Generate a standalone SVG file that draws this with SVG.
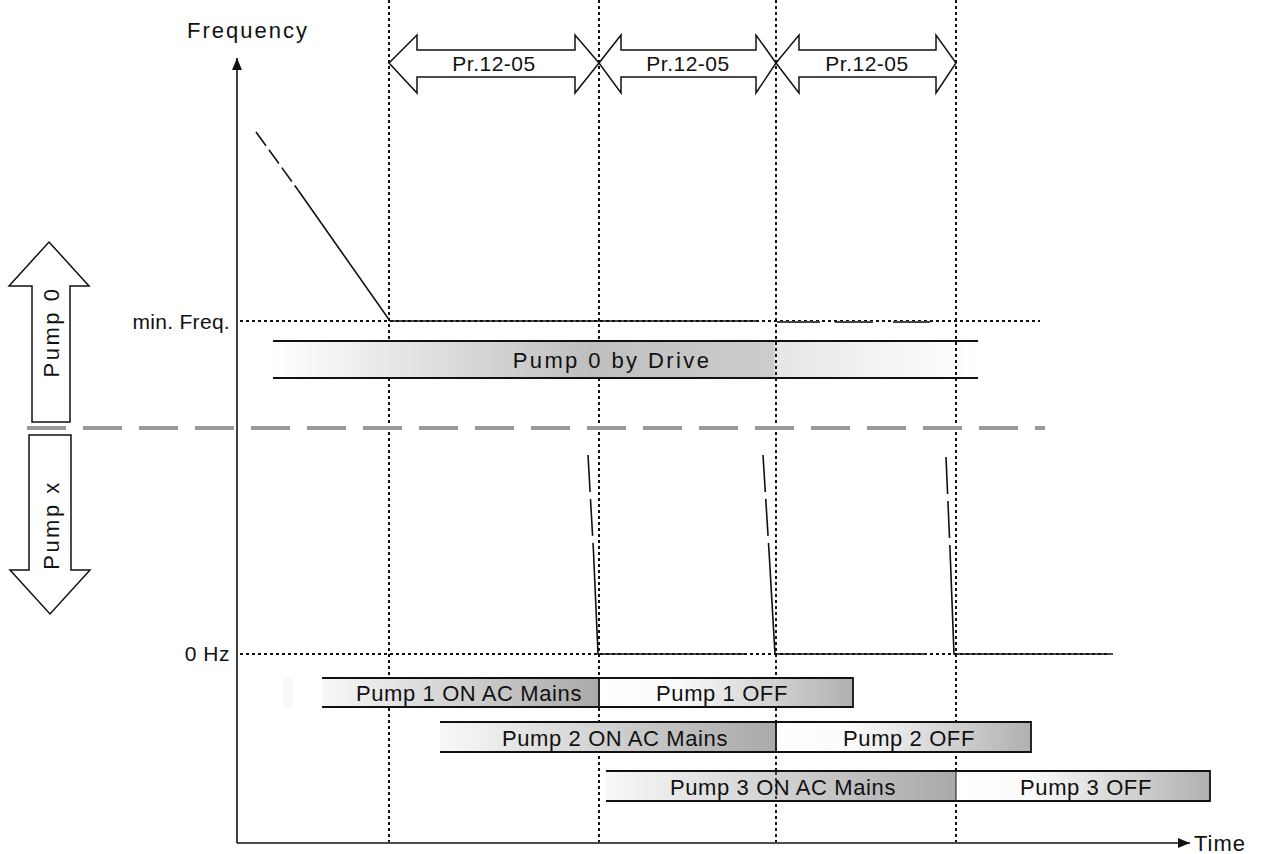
<svg xmlns="http://www.w3.org/2000/svg" width="1265" height="854" viewBox="0 0 1265 854">
<defs>
<style>
text{font-family:"Liberation Sans",Arial,sans-serif;fill:#111}
.lbl{font-size:22px;letter-spacing:2px}
.bar{font-size:22px;letter-spacing:0.6px;text-anchor:middle}
.pr{font-size:21px;letter-spacing:0.5px;text-anchor:middle}
.dot{stroke:#111;stroke-width:2;stroke-dasharray:3,3;fill:none}
.ln{stroke:#111;stroke-width:1.6;fill:none}
.arw{fill:#fff;stroke:#111;stroke-width:1.5}
.edge{stroke:#111;stroke-width:1.8;fill:none}
</style>
<linearGradient id="gOn" x1="0" y1="0" x2="1" y2="0"><stop offset="0" stop-color="#f8f8f8"/><stop offset="1" stop-color="#a9a9a9"/></linearGradient>
<linearGradient id="gOff" x1="0" y1="0" x2="1" y2="0"><stop offset="0" stop-color="#ffffff"/><stop offset="0.3" stop-color="#fbfbfb"/><stop offset="1" stop-color="#b0b0b0"/></linearGradient>
<linearGradient id="gDrv" x1="0" y1="0" x2="1" y2="0"><stop offset="0" stop-color="#ffffff"/><stop offset="0.45" stop-color="#bfbfbf"/><stop offset="0.71" stop-color="#cdcdcd"/><stop offset="0.713" stop-color="#e6e6e6"/><stop offset="1" stop-color="#ffffff"/></linearGradient>
<marker id="ah" markerWidth="12" markerHeight="10" refX="12" refY="5" orient="auto" markerUnits="userSpaceOnUse"><path d="M0,0 L12,5 L0,10 Z" fill="#111"/></marker>
</defs>
<rect width="1265" height="854" fill="#fff"/>

<g id="grid">
<path class="dot" d="M389,0 V842 M599,0 V842 M776,0 V842 M956,0 V842"/>
<path class="dot" d="M240,321 H1040 M240,654 H1110"/>
</g>

<g id="separator">
<path d="M27,428 H1045" stroke="#999" stroke-width="4" stroke-dasharray="39,17" fill="none"/>
</g>

<g id="axes">
<path class="ln" d="M237,843 V58" marker-end="url(#ah)"/>
<path class="ln" d="M237,843 H1190" marker-end="url(#ah)"/>
<text class="lbl" x="187" y="38">Frequency</text>
<text class="lbl" x="1194" y="851" style="letter-spacing:1px">Time</text>
<text x="230" y="329" style="font-size:21px;letter-spacing:0.3px;text-anchor:end">min. Freq.</text>
<text x="230" y="661" style="font-size:21px;letter-spacing:0.5px;text-anchor:end">0 Hz</text>
</g>

<g id="pr-arrows">
<g id="pr1"><path class="arw" d="M389,63 L417,35 L417,50 L575,50 L575,35 L599,63 L575,93 L575,77 L417,77 L417,93 Z"/><text class="pr" x="494" y="71">Pr.12-05</text></g>
<g id="pr2"><path class="arw" d="M599,63 L621,35 L621,50 L756,50 L756,35 L776,63 L756,93 L756,77 L621,77 L621,93 Z"/><text class="pr" x="688" y="71">Pr.12-05</text></g>
<g id="pr3"><path class="arw" d="M776,63 L799,35 L799,50 L936,50 L936,35 L956,63 L936,93 L936,77 L799,77 L799,93 Z"/><text class="pr" x="867" y="71">Pr.12-05</text></g>
</g>

<g id="pump0-arrow">
<path class="arw" d="M49,242 L89,286 L70,286 L70,422 L32,422 L32,286 L9,286 Z"/>
<text x="0" y="0" transform="translate(59,332) rotate(-90)" style="font-size:22px;letter-spacing:2.5px;text-anchor:middle">Pump 0</text>
</g>
<g id="pumpx-arrow">
<path class="arw" d="M29,435 L71,435 L71,570 L90,570 L50,614 L10,570 L29,570 Z"/>
<text x="0" y="0" transform="translate(59,525) rotate(-90)" style="font-size:22px;letter-spacing:2.5px;text-anchor:middle">Pump x</text>
</g>

<g id="curves">
<path class="ln" d="M256,132 L298,190" stroke-dasharray="17,5"/>
<path class="ln" d="M298,190 L390,321 L757,321"/>
<path d="M777,322 H820 M835,322 H873 M893,322 H930" stroke="#444" stroke-width="2" fill="none"/>
<path class="ln" d="M588,455 L593.5,552" stroke-dasharray="37,7"/>
<path class="ln" d="M593.5,552 L598,654 L747,654"/>
<path class="ln" d="M763,455 L769,551" stroke-dasharray="37,7"/>
<path class="ln" d="M769,551 L775,654 L926,654"/>
<path class="ln" d="M946,457 L950,549" stroke-dasharray="37,7"/>
<path class="ln" d="M950,549 L954,654 L1113,654"/>
</g>

<g id="drive-bar">
<rect x="273" y="341" width="705" height="37" fill="url(#gDrv)"/>
<path class="edge" d="M273,341 H978 M273,378 H978"/>
<path class="dot" d="M776,342 V377 M956,342 V377"/>
<text class="bar" x="612" y="368" style="letter-spacing:2.4px">Pump 0 by Drive</text>
</g>

<g id="pump1-bars">
<rect x="283" y="678" width="10" height="29" fill="#f8f8f8"/>
<rect x="322" y="678" width="277" height="29" fill="url(#gOn)"/>
<rect x="599" y="678" width="254" height="29" fill="url(#gOff)"/>
<path class="edge" d="M322,678 H853 V707 H322 M599,678 V707"/>
<text class="bar" x="469" y="701">Pump 1 ON AC Mains</text>
<text class="bar" x="722" y="701">Pump 1 OFF</text>
</g>
<g id="pump2-bars">
<rect x="440" y="722" width="336" height="30" fill="url(#gOn)"/>
<rect x="776" y="722" width="255" height="30" fill="url(#gOff)"/>
<path class="edge" d="M440,722 H1031 V752 H440 M776,722 V752"/>
<text class="bar" x="615" y="746">Pump 2 ON AC Mains</text>
<text class="bar" x="909" y="746">Pump 2 OFF</text>
</g>
<g id="pump3-bars">
<rect x="606" y="771" width="350" height="30" fill="url(#gOn)"/>
<rect x="956" y="771" width="254" height="30" fill="url(#gOff)"/>
<path class="edge" d="M606,771 H1210 V801 H606"/>
<path class="dot" d="M776,772 V800" style="stroke-width:1.5"/>
<path d="M956,771 V801" stroke="#111" stroke-width="1"/>
<text class="bar" x="783" y="795">Pump 3 ON AC Mains</text>
<text class="bar" x="1086" y="795">Pump 3 OFF</text>
</g>
</svg>
